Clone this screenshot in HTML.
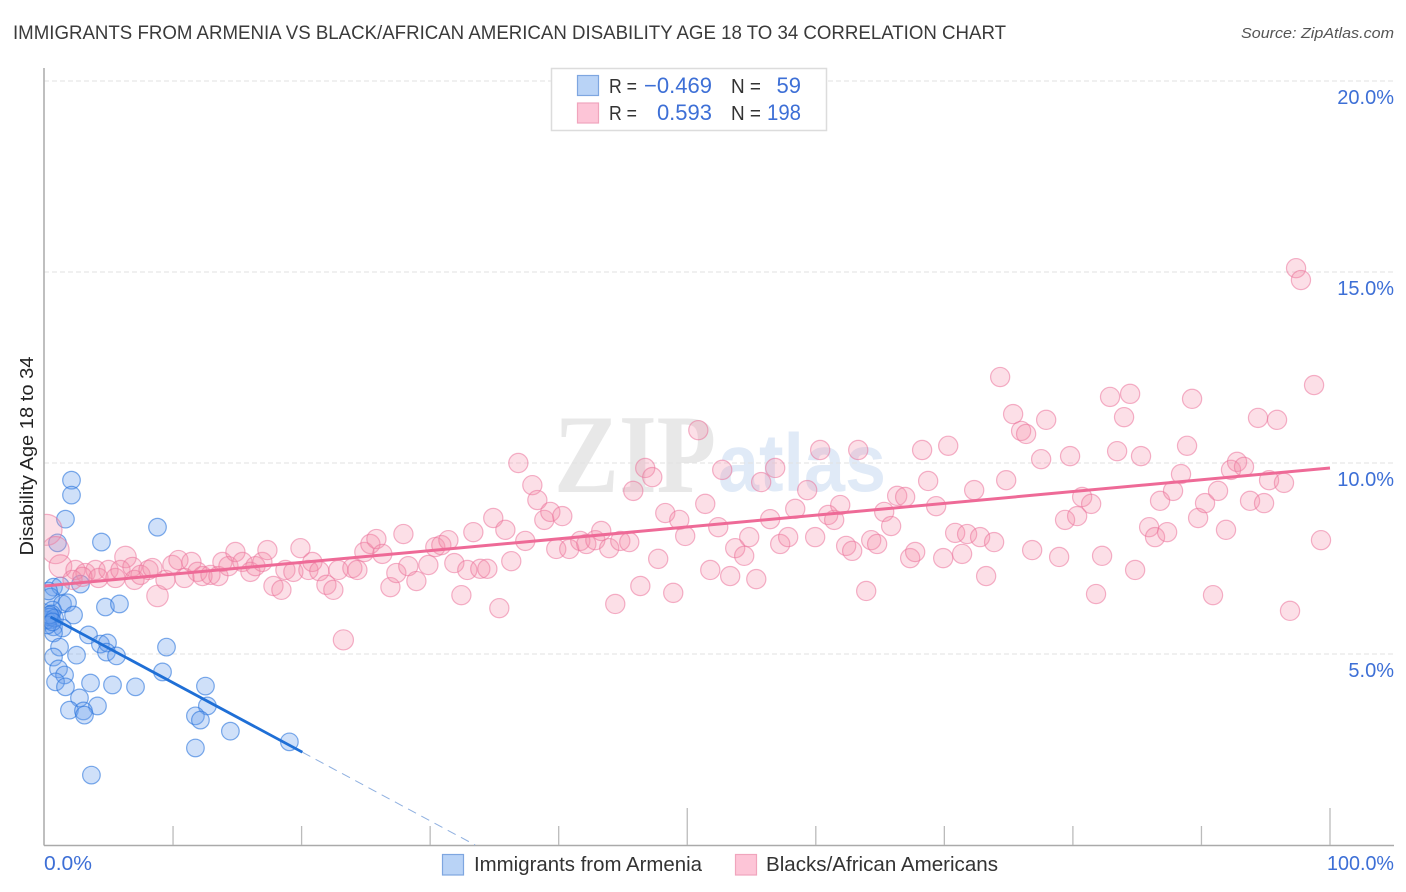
<!DOCTYPE html>
<html lang="en">
<head>
<meta charset="utf-8">
<title>Immigrants from Armenia vs Black/African American Disability Correlation Chart</title>
<style>
html,body{margin:0;padding:0;background:#fff;}
svg{display:block;font-family:"Liberation Sans",Arial,sans-serif;}
</style>
</head>
<body>
<svg id="chart" width="1406" height="892" viewBox="0 0 1406 892" xmlns="http://www.w3.org/2000/svg">
  <defs>
    <clipPath id="plot-clip"><rect x="44.5" y="60" width="1350" height="785"/></clipPath>
  </defs>
  <rect x="0" y="0" width="1406" height="892" fill="#fff"/>
  <text x="13" y="39" font-size="19" fill="#3a3a3a" textLength="993" lengthAdjust="spacingAndGlyphs">IMMIGRANTS FROM ARMENIA VS BLACK/AFRICAN AMERICAN DISABILITY AGE 18 TO 34 CORRELATION CHART</text>
  <text x="1394" y="38" font-size="15" font-style="italic" fill="#555" text-anchor="end" textLength="153" lengthAdjust="spacingAndGlyphs">Source: ZipAtlas.com</text>
  <text x="554" y="492" font-family="'Liberation Serif',serif" font-weight="700" font-size="112" fill="#e8e8e8" textLength="162" lengthAdjust="spacingAndGlyphs">ZIP</text>
  <text x="718" y="491" font-weight="700" font-size="82" fill="#e0eaf7" textLength="168" lengthAdjust="spacingAndGlyphs">atlas</text>
  <g id="grid"></g>
  <g id="axes"></g>
  <g id="points-armenia" clip-path="url(#plot-clip)"></g>
  <g id="points-blacks" clip-path="url(#plot-clip)"></g>
  <g id="trends"></g>
  <text transform="translate(33,456) rotate(-90)" font-size="18.5" fill="#222" text-anchor="middle" textLength="199" lengthAdjust="spacingAndGlyphs">Disability Age 18 to 34</text>
  <text x="44" y="870" font-size="20" fill="#3d6fd6" textLength="48" lengthAdjust="spacingAndGlyphs">0.0%</text>
  <text x="1394" y="870" font-size="20" fill="#3d6fd6" text-anchor="end" textLength="67" lengthAdjust="spacingAndGlyphs">100.0%</text>

  <g>
    <rect x="551.5" y="68.5" width="275" height="62" fill="#fff" stroke="#dcdcdc" stroke-width="1.5"/>
    <rect x="577.5" y="75.5" width="21" height="20" fill="#b9d3f6" stroke="#7ea6e0" stroke-width="1.2"/>
    <rect x="577.5" y="103" width="21" height="20" fill="#fdc5d7" stroke="#f0a5bd" stroke-width="1.2"/>
    <text x="609" y="93" font-size="20" fill="#333" textLength="28" lengthAdjust="spacingAndGlyphs">R =</text>
    <text x="712" y="93" font-size="22" fill="#3d6fd6" text-anchor="end" textLength="68" lengthAdjust="spacing">−0.469</text>
    <text x="731" y="93" font-size="20" fill="#333" textLength="30" lengthAdjust="spacingAndGlyphs">N =</text>
    <text x="801" y="93" font-size="22" fill="#3d6fd6" text-anchor="end">59</text>
    <text x="609" y="120" font-size="20" fill="#333" textLength="28" lengthAdjust="spacingAndGlyphs">R =</text>
    <text x="712" y="120" font-size="22" fill="#3d6fd6" text-anchor="end">0.593</text>
    <text x="731" y="120" font-size="20" fill="#333" textLength="30" lengthAdjust="spacingAndGlyphs">N =</text>
    <text x="801" y="120" font-size="22" fill="#3d6fd6" text-anchor="end" textLength="34" lengthAdjust="spacingAndGlyphs">198</text>
  </g>

  <g>
    <rect x="442.5" y="854.5" width="21" height="20.5" fill="#b9d3f6" stroke="#7ea6e0" stroke-width="1.2"/>
    <text x="474" y="871" font-size="20" fill="#333" textLength="228" lengthAdjust="spacingAndGlyphs">Immigrants from Armenia</text>
    <rect x="735.5" y="854.5" width="21" height="20.5" fill="#fdc5d7" stroke="#f0a5bd" stroke-width="1.2"/>
    <text x="766" y="871" font-size="20" fill="#333" textLength="232" lengthAdjust="spacingAndGlyphs">Blacks/African Americans</text>
  </g>
</svg>
<script>
const yTickValues = [5, 10, 15, 20];
const yTickLabels = ["5.0%", "10.0%", "15.0%", "20.0%"];
const xTickValues = [0, 10, 20, 30, 40, 50, 60, 70, 80, 90, 100];
const xMajorTicks = [0, 50, 100];

const armeniaX = [2.10,2.10,1.63,8.79,4.43,1.01,0.70,1.24,2.80,4.74,5.83,0.47,1.40,1.79,2.26,0.62,0.47,0.70,1.40,0.70,3.42,4.35,4.90,4.82,5.60,9.49,1.17,2.49,0.70,1.09,1.56,9.18,0.86,1.63,3.58,5.29,7.08,12.52,2.72,12.67,4.12,1.94,3.03,3.11,11.74,12.13,14.46,19.05,11.74,3.65,0.31,0.31,0.54,0.16,0.47,0.78,0.23,0.39,0.62];
const armeniaY = [9.55,9.16,8.53,8.32,7.93,7.91,6.75,6.78,6.83,6.23,6.31,6.49,6.31,6.34,6.02,6.15,5.89,5.71,5.68,5.55,5.50,5.26,5.29,5.05,4.95,5.18,5.18,4.97,4.92,4.61,4.45,4.53,4.27,4.14,4.24,4.19,4.14,4.16,3.85,3.64,3.64,3.53,3.51,3.40,3.38,3.27,2.98,2.70,2.54,1.83,6.65,5.97,6.05,5.89,5.97,5.94,5.76,6.02,5.84];

const blacksX = [0.16,0.86,1.24,2.41,3.19,2.18,3.97,2.95,4.20,4.98,5.52,6.30,5.91,6.84,7.00,7.47,8.09,8.40,8.79,9.41,9.95,10.42,10.89,11.43,11.90,12.29,12.91,13.53,13.84,14.31,14.85,15.40,16.02,16.41,16.95,17.34,17.81,18.43,18.74,19.36,19.91,20.53,20.84,21.38,21.93,22.47,22.86,23.25,23.95,24.34,24.88,25.35,25.82,26.28,26.91,27.37,27.92,28.30,28.93,29.86,30.40,30.87,31.42,31.88,32.43,32.89,33.36,33.90,34.45,34.91,35.38,35.85,36.31,36.86,37.40,37.95,38.34,38.88,39.35,39.81,40.28,40.82,41.68,42.15,42.85,43.31,43.93,44.40,44.79,45.49,45.80,46.35,46.73,47.28,47.74,48.29,48.91,49.38,49.84,50.86,51.40,51.79,52.41,52.72,53.34,53.73,54.43,54.82,55.37,55.75,56.45,56.84,57.23,57.85,58.40,59.33,59.95,60.34,60.96,61.43,61.90,62.36,62.83,63.30,63.92,64.31,64.77,65.32,65.86,66.33,66.95,67.34,67.73,68.27,68.74,69.36,69.91,70.30,70.84,71.38,71.77,72.32,72.78,73.25,73.87,74.34,74.81,75.35,75.97,76.36,76.83,77.53,77.92,78.93,79.39,79.78,80.33,80.72,81.42,81.80,82.27,82.89,83.44,83.98,84.45,84.84,85.30,85.93,86.39,86.78,87.33,87.79,88.41,88.88,89.27,89.74,90.28,90.90,91.29,91.91,92.30,92.77,93.31,93.78,94.40,94.87,95.26,95.88,96.42,96.89,97.36,97.74,98.76,99.30];
const blacksY = [8.25,7.72,7.30,7.20,7.12,6.94,7.20,7.02,6.99,7.20,6.99,7.54,7.20,7.28,6.94,7.07,7.20,7.25,6.52,6.94,7.33,7.46,6.99,7.41,7.15,7.04,7.07,7.04,7.41,7.30,7.67,7.41,7.15,7.30,7.41,7.72,6.78,6.68,7.20,7.15,7.77,7.20,7.41,7.17,6.81,6.68,7.20,5.37,7.25,7.20,7.67,7.88,8.01,7.62,6.75,7.12,8.14,7.30,6.91,7.33,7.80,7.85,7.98,7.38,6.54,7.20,8.19,7.23,7.23,8.56,6.20,8.25,7.43,10.00,7.96,9.42,9.03,8.51,8.72,7.75,8.61,7.75,7.96,7.88,7.98,8.22,7.77,6.31,7.96,7.93,9.27,6.78,9.87,9.63,7.49,8.69,6.60,8.51,8.09,10.86,8.93,7.20,8.32,9.82,7.04,7.77,7.57,8.06,6.96,9.50,8.53,9.87,7.88,8.06,8.80,9.29,8.06,10.34,8.64,8.51,8.90,7.83,7.70,10.34,6.65,7.98,7.88,8.72,8.35,9.14,9.11,7.51,7.67,10.34,9.53,8.87,7.51,10.45,8.17,7.62,8.14,9.29,8.06,7.04,7.93,12.25,9.55,11.28,10.84,10.76,7.72,10.10,11.13,7.54,8.51,10.18,8.61,9.11,8.93,6.57,7.57,11.73,10.31,11.20,11.81,7.20,10.18,8.32,8.06,9.01,8.19,9.27,9.71,10.45,11.68,8.56,8.95,6.54,9.27,8.25,9.82,10.03,9.90,9.01,11.18,8.95,9.55,11.13,9.48,6.13,15.10,14.79,12.04,7.98];
const blacksWeight = [2.6,2,1.4,1,1,1,1,1,1,1,1,1.25,1,1,1,1,1,1,1.25,1,1,1,1,1,1,1,1,1,1,1,1,1,1,1,1,1,1,1,1,1,1,1,1,1,1,1,1,1.1];

const armeniaTrendX = [0.47, 20.06];
const armeniaTrendY = [5.97, 2.43];
const armeniaTrendDashX = [20.06, 33.5];
const armeniaTrendDashY = [2.43, 0];
const blacksTrendX = [0, 100];
const blacksTrendY = [6.78, 9.87];

const NS = "http://www.w3.org/2000/svg";
function xScale(v) { return 44.5 + v * 12.855; }
function yScale(v) { return 845 - v * 38.2; }
function armeniaRadius() { return 8.8; }
function blacksRadius(w) { return 9.6 * Math.sqrt(w); }

function make(tag, attrs, parent) {
  const el = document.createElementNS(NS, tag);
  Object.keys(attrs).forEach(function (k) { el.setAttribute(k, attrs[k]); });
  parent.appendChild(el);
  return el;
}

const gridGroup = document.getElementById("grid");
const axesGroup = document.getElementById("axes");
const armeniaGroup = document.getElementById("points-armenia");
const blacksGroup = document.getElementById("points-blacks");
const trendGroup = document.getElementById("trends");

yTickValues.forEach(function (v, i) {
  const y = yScale(v);
  const line = make("line", { x1: 44, x2: 1394, y1: y, y2: y, stroke: "#e2e2e2", "stroke-width": 1, "stroke-dasharray": "5 3" }, gridGroup);
  
  
  const label = make("text", { x: 1394, y: y + 23, "font-size": 20, fill: "#3d6fd6", "text-anchor": "end" }, gridGroup);
  label.textContent = yTickLabels[i];
  
  
});

const yAxisLine = make("line", { x1: 44, x2: 44, y1: 68, y2: 845.5, stroke: "#aaa", "stroke-width": 1.5 }, axesGroup);


const xAxisLine = make("line", { x1: 44, x2: 1394, y1: 845.5, y2: 845.5, stroke: "#aaa", "stroke-width": 1.5 }, axesGroup);


xTickValues.forEach(function (v) {
  if (v === 0) return;
  const x = xScale(v);
  const top = xMajorTicks.indexOf(v) >= 0 ? 808 : 826;
  const tick = make("line", { x1: x, x2: x, y1: top, y2: 845, stroke: "#bbb", "stroke-width": 1.3 }, axesGroup);
  
  
});

armeniaX.forEach(function (v, i) {
  const c = make("circle", { cx: xScale(v), cy: yScale(armeniaY[i]), r: armeniaRadius(), fill: "rgba(105,160,235,0.32)", stroke: "rgba(40,115,220,0.6)", "stroke-width": 1.2 }, armeniaGroup);
  
  
});

blacksX.forEach(function (v, i) {
  const w = blacksWeight[i] === undefined ? 1 : blacksWeight[i];
  const c = make("circle", { cx: xScale(v), cy: yScale(blacksY[i]), r: blacksRadius(w), fill: "rgba(245,140,170,0.28)", stroke: "rgba(235,115,155,0.55)", "stroke-width": 1.2 }, blacksGroup);
  
  
});

const blacksTrend = make("line", { x1: xScale(blacksTrendX[0]), x2: xScale(blacksTrendX[1]), y1: yScale(blacksTrendY[0]), y2: yScale(blacksTrendY[1]), stroke: "#ee6a97", "stroke-width": 3 }, trendGroup);


const armeniaTrend = make("line", { x1: xScale(armeniaTrendX[0]), x2: xScale(armeniaTrendX[1]), y1: yScale(armeniaTrendY[0]), y2: yScale(armeniaTrendY[1]), stroke: "#1f6fd6", "stroke-width": 2.8 }, trendGroup);


const armeniaDash = make("line", { x1: xScale(armeniaTrendDashX[0]), x2: xScale(armeniaTrendDashX[1]), y1: yScale(armeniaTrendDashY[0]), y2: yScale(armeniaTrendDashY[1]), stroke: "#8fb0e0", "stroke-width": 1, "stroke-dasharray": "9 6" }, trendGroup);


</script>
</body>
</html>
